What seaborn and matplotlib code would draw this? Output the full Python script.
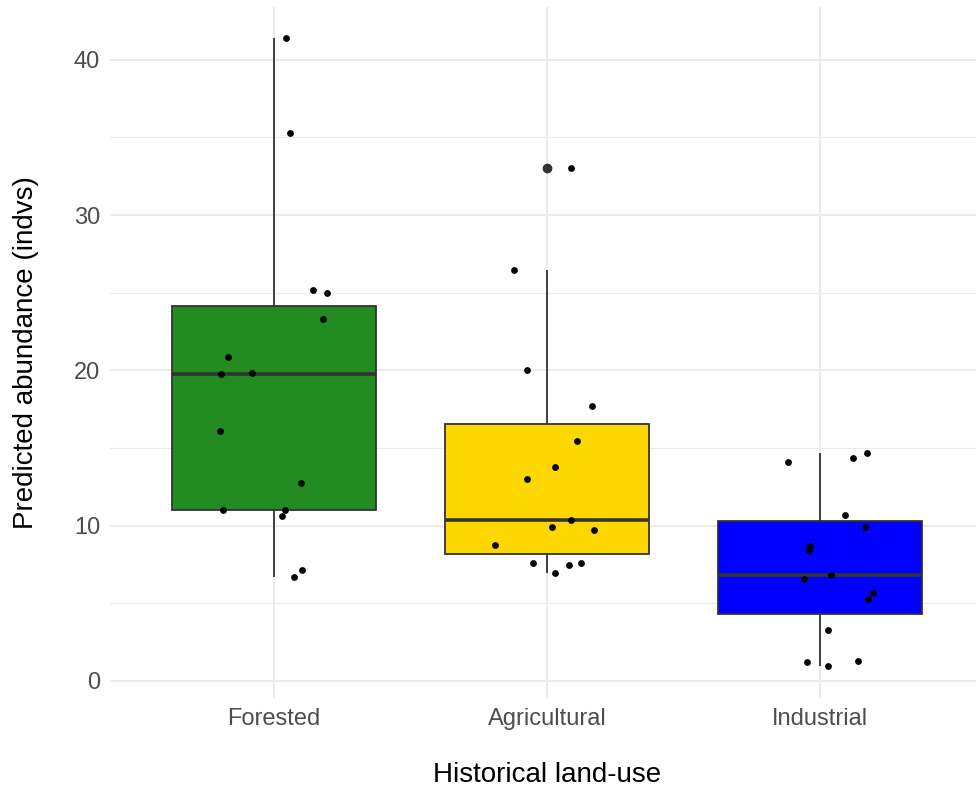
import matplotlib
matplotlib.use("Agg")
import matplotlib.pyplot as plt
from matplotlib.ticker import MultipleLocator
import numpy as np
import pandas as pd
import seaborn as sns

# Predicted abundance per site, grouped by historical land-use
categories = ["Forested", "Agricultural", "Industrial"]
box_colors = ["#228B22", "#FFD700", "#0000FF"]

forested_values = [41.4, 35.27, 25.2, 24.98, 23.31, 20.88, 19.77, 19.85,
                   16.08, 12.77, 11.01, 11.01, 10.62, 7.17, 6.70]
agricultural_values = [33.05, 26.49, 20.05, 17.71, 15.43, 13.78, 13.01, 10.39,
                       9.90, 9.70, 8.74, 7.60, 7.47, 7.58, 6.94]
industrial_values = [14.12, 14.38, 14.70, 10.69, 9.89, 8.69, 8.46, 6.83,
                     6.55, 5.65, 5.30, 3.26, 1.20, 1.31, 0.95]

# horizontal jitter of each site's point, in category units
forested_jitter = [0.044, 0.057, 0.142, 0.193, 0.178, -0.170, -0.193, -0.081,
                   -0.198, 0.099, -0.186, 0.039, 0.029, 0.101, 0.072]
agricultural_jitter = [0.087, -0.120, -0.072, 0.166, 0.109, 0.029, -0.073, 0.088,
                       0.017, 0.171, -0.189, -0.051, 0.082, 0.126, 0.029]
industrial_jitter = [-0.116, 0.121, 0.171, 0.093, 0.164, -0.038, -0.040, 0.041,
                     -0.058, 0.195, 0.175, 0.030, -0.049, 0.139, 0.030]

y_ticks = [0, 10, 20, 30, 40]

values = [forested_values, agricultural_values, industrial_values]
jitters = [forested_jitter, agricultural_jitter, industrial_jitter]
df = pd.DataFrame({
    "land_use": np.repeat(categories, [len(v) for v in values]),
    "abundance": np.concatenate(values),
    "jitter": np.concatenate(jitters),
})
df["xpos"] = df["land_use"].map({c: i for i, c in enumerate(categories)}) + df["jitter"]

sns.set_style("white")
plt.rcParams["font.family"] = ["Liberation Sans", "DejaVu Sans"]

W, H = 976, 794
fig = plt.figure(figsize=(W / 100, H / 100), dpi=100)
left_px, right_px, top_px, bottom_px = 110.2, 983.8, 6.7, 697.6
ax = fig.add_axes([left_px / W, 1 - bottom_px / H,
                   (right_px - left_px) / W, (bottom_px - top_px) / H])

edge = "#333333"
sns.boxplot(
    data=df, x="land_use", y="abundance", hue="land_use",
    order=categories, hue_order=categories,
    palette=dict(zip(categories, box_colors)), saturation=1,
    width=0.75, linecolor=edge, linewidth=1.3, showcaps=False, whis=1.5,
    medianprops=dict(color=edge, linewidth=2.6),
    flierprops=dict(marker="o", markerfacecolor=edge, markeredgecolor=edge,
                    markersize=6),
    legend=False, ax=ax, zorder=2,
)

sns.scatterplot(data=df, x="xpos", y="abundance", color="black", s=24,
                linewidth=0, ax=ax, zorder=3, legend=False)

lo, hi = df["abundance"].min(), df["abundance"].max()
pad = 0.05 * (hi - lo)
ax.set_ylim(lo - pad, hi + pad)
ax.set_xlim(-0.6, len(categories) - 0.4)
ax.set_xticks(range(len(categories)))
ax.set_xticklabels(categories)
ax.set_yticks(y_ticks)
ax.yaxis.set_minor_locator(MultipleLocator(5))

grid_color = "#EBEBEB"
ax.set_axisbelow(True)
ax.grid(True, which="major", axis="both", color=grid_color, linewidth=1.4)
ax.grid(True, which="minor", axis="y", color=grid_color, linewidth=0.8)
for s in ax.spines.values():
    s.set_visible(False)

ax.tick_params(axis="both", which="both", length=0, labelsize=17,
               labelcolor="#4D4D4D")
ax.tick_params(axis="x", pad=7.5)
ax.tick_params(axis="y", pad=7.3)

ax.set_xlabel("Historical land-use", fontsize=20, color="black", va="baseline")
ax.xaxis.set_label_coords(0.5, (bottom_px - 781.7) / (bottom_px - top_px))
ax.set_ylabel("Predicted abundance (indvs)", fontsize=20, color="black",
              rotation=90, rotation_mode="anchor", va="baseline", ha="center")
ax.yaxis.set_label_coords((33.3 - left_px) / (right_px - left_px), 0.5)

fig.savefig("out.png", dpi=100)
